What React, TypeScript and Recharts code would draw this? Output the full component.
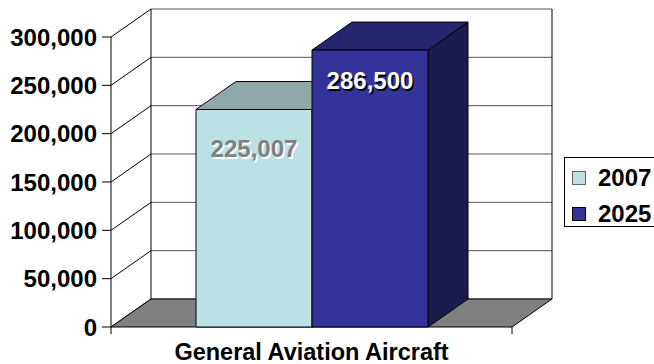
import { BarChart, Bar, XAxis, YAxis, CartesianGrid, ReferenceArea, LabelList, Legend } from 'recharts'

const CATEGORIES = ['General Aviation Aircraft']
const SERIES_2007 = [225007]
const SERIES_2025 = [286500]
const SERIES_NAMES = ['2007', '2025']
const Y_TICKS = [0, 50000, 100000, 150000, 200000, 250000, 300000]

const data = CATEGORIES.map((name, i) => ({
  name,
  y2007: SERIES_2007[i],
  y2025: SERIES_2025[i],
}))

// 3d depth offset of the chart box
const DX = 40
const DY = 28
const FONT = '"Liberation Sans", Arial, sans-serif'

const COLORS = {
  y2007: { front: '#bbe1e4', top: '#8fa9ab', side: '#7f9c9e', text: '#808080', shadow: '#ffffff' },
  y2025: { front: '#333399', top: '#262670', side: '#1c1b4d', text: '#ffffff', shadow: '#000000' },
}

const fmt = (v: number) => v.toLocaleString('en-US')

function Walls(props: any) {
  const { x, y, width, height } = props
  const bottom = y + height
  return (
    <g>
      <polygon
        points={`${x},${bottom} ${x + width},${bottom} ${x + width + DX},${bottom - DY} ${x + DX},${bottom - DY}`}
        fill="#808080"
        stroke="#000"
        strokeWidth={1}
      />
      <line x1={x + DX} y1={y - DY} x2={x + DX} y2={bottom - DY} stroke="#000" />
      <line x1={x + width + DX} y1={y - DY} x2={x + width + DX} y2={bottom - DY} stroke="#000" />
      <line x1={x + width} y1={bottom} x2={x + width} y2={bottom + 7} stroke="#000" />
      <line x1={x} y1={bottom} x2={x} y2={bottom + 7} stroke="#000" />
    </g>
  )
}

function gridLine(props: any) {
  const { x1, y1, x2 } = props
  return (
    <g key={props.key}>
      <line x1={x1 + DX} y1={y1 - DY} x2={x2 + DX} y2={y1 - DY} stroke="#555" strokeWidth={1} />
      <line x1={x1} y1={y1} x2={x1 + DX} y2={y1 - DY} stroke="#000" strokeWidth={1} />
    </g>
  )
}

function makeBox(key: 'y2007' | 'y2025') {
  const c = COLORS[key]
  return (props: any) => {
    const { x, y, width, height } = props
    const b = y + height
    return (
      <g stroke="#000" strokeWidth={1} strokeLinejoin="round">
        <polygon
          points={`${x + width},${y} ${x + width + DX},${y - DY} ${x + width + DX},${b - DY} ${x + width},${b}`}
          fill={c.side}
        />
        <polygon
          points={`${x},${y} ${x + width},${y} ${x + width + DX},${y - DY} ${x + DX},${y - DY}`}
          fill={c.top}
        />
        <rect x={x} y={y} width={width} height={height} fill={c.front} />
      </g>
    )
  }
}

function makeLabel(key: 'y2007' | 'y2025', dy: number) {
  const c = COLORS[key]
  return (props: any) => {
    const { x, y, width, value } = props
    const cx = x + width / 2
    const style = { fontFamily: FONT, fontSize: 24, fontWeight: 'bold' as const }
    return (
      <g>
        <text x={cx + 1.5} y={y + dy + 1.5} textAnchor="middle" fill={c.shadow} style={style}>
          {fmt(value)}
        </text>
        <text x={cx} y={y + dy} textAnchor="middle" fill={c.text} style={style}>
          {fmt(value)}
        </text>
      </g>
    )
  }
}

function LegendBox() {
  const items = [
    { name: SERIES_NAMES[0], color: COLORS.y2007.front, border: '#666' },
    { name: SERIES_NAMES[1], color: COLORS.y2025.front, border: '#000' },
  ]
  return (
    <div
      style={{
        border: '1px solid #000',
        background: '#fff',
        height: 70,
        width: 110,
        boxSizing: 'border-box',
        paddingTop: 2,
        paddingLeft: 7,
        fontFamily: FONT,
        fontWeight: 'bold',
        fontSize: 24,
        color: '#000',
      }}
    >
      {items.map(it => (
        <div key={it.name} style={{ display: 'flex', alignItems: 'center', height: 36 }}>
          <span
            style={{
              display: 'inline-block',
              width: 12,
              height: 12,
              background: it.color,
              border: `1px solid ${it.border}`,
              marginRight: 12,
            }}
          />
          <span style={{ lineHeight: '36px' }}>{it.name}</span>
        </div>
      ))}
    </div>
  )
}

export default function App() {
  return (
    <div style={{ position: 'absolute', left: 0, top: 0, width: 654, height: 364, overflow: 'hidden', background: '#fff' }}>
      <BarChart
        width={654}
        height={364}
        data={data}
        margin={{ top: 37, right: 142, left: 0, bottom: 0 }}
        barCategoryGap={85}
        barGap={0}
      >
        <CartesianGrid horizontal={gridLine} vertical={false} />
        <ReferenceArea y1={0} y2={300000} shape={Walls} ifOverflow="visible" />
        <XAxis
          dataKey="name"
          height={37}
          axisLine={false}
          tickLine={false}
          tickSize={8}
          tickMargin={8}
          tick={{ fontFamily: FONT, fontSize: 23.5, fontWeight: 'bold', fill: '#000' }}
        />
        <YAxis
          width={111}
          domain={[0, 300000]}
          ticks={Y_TICKS}
          tickFormatter={fmt}
          axisLine={{ stroke: '#000' }}
          tickLine={{ stroke: '#000' }}
          tickSize={9}
          tickMargin={5}
          tick={{ fontFamily: FONT, fontSize: 24, fontWeight: 'bold', fill: '#000' }}
        />
        <Legend
          layout="vertical"
          align="center"
          verticalAlign="middle"
          content={<LegendBox />}
          wrapperStyle={{ left: 564, top: 157, width: 110 }}
        />
        <Bar dataKey="y2007" name={SERIES_NAMES[0]} shape={makeBox('y2007')} isAnimationActive={false}>
          <LabelList dataKey="y2007" content={makeLabel('y2007', 48)} />
        </Bar>
        <Bar dataKey="y2025" name={SERIES_NAMES[1]} shape={makeBox('y2025')} isAnimationActive={false}>
          <LabelList dataKey="y2025" content={makeLabel('y2025', 39)} />
        </Bar>
      </BarChart>
    </div>
  )
}
